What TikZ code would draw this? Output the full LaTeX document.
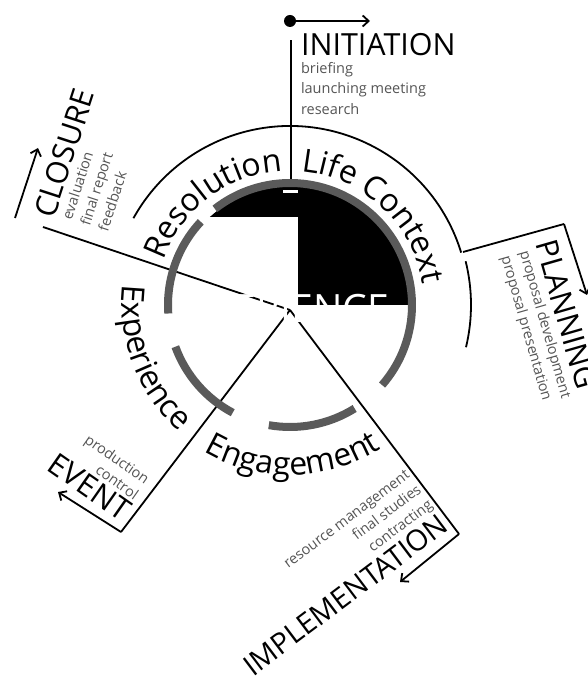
\documentclass[tikz,border=0pt]{standalone}
\usepackage{fontspec}
\setmainfont{Open Sans}
\usetikzlibrary{arrows.meta,decorations.text}
\definecolor{ringgray}{HTML}{5A5A5A}
\definecolor{stepgray}{HTML}{555555}
\newcommand\capfont{\fontsize{30.5}{36}\selectfont}
\newcommand\arcfont{\fontsize{32}{36}\selectfont}
\newcommand\stepfont{\fontsize{14.5}{19}\selectfont}

\begin{document}
\begin{tikzpicture}[
  x=1pt, y=1pt,
  every node/.style={inner sep=0pt, outer sep=0pt},
  caption/.style={font=\capfont},
  steps/.style={font=\stepfont, text=stepgray},
  spoke/.style={line width=1.8pt},
  flow/.style={line width=1.8pt, -{Straight Barb[length=6pt,width=11pt]}},
  rim/.style={line width=1.8pt},
  ring/.style={line width=8pt, draw=ringgray}
]
\useasboundingbox (0,0) rectangle (588,682);

% centre of the wheel
\coordinate (c) at (290,377);
\coordinate (hub) at (290,372);

% black cap with its white patch
\fill[black] ([shift={(0:119)}]c) arc[start angle=0, end angle=180, radius=119] -- cycle;
\fill[white] (160,377) rectangle (298,465);
\fill[white] (283,489) rectangle (298,492);

% spokes
\coordinate (topfoot) at (291,498);
\coordinate (toptip) at (291,642);
\coordinate (cloend) at (43,455);
\coordinate (evtend) at (121,150);
\coordinate (impend) at (459,148);
\coordinate (plastart) at (463,430);
\coordinate (plaend) at (564,458);
\draw[spoke] (topfoot) -- (toptip);
\draw[spoke] (hub) -- (cloend);
\draw[spoke] (hub) -- (evtend);
\draw[spoke] (hub) -- (impend);
\draw[spoke] (plastart) -- (plaend);

% phase arrows
\node[circle, fill=black, minimum size=12pt] (dot) at (290,661) {};
\coordinate (initnext) at (370,661);
\coordinate (clofrom) at (15,464);
\coordinate (clonext) at (38,534);
\coordinate (evtnext) at (58,190);
\coordinate (impnext) at (400,100);
\coordinate (planext) at (587,387);
\draw[flow] (dot) -- (initnext);
\draw[flow] (clofrom) -- (clonext);
\draw[flow] (evtend) -- (evtnext);
\draw[flow] (impend) -- (impnext);
\draw[flow] (plaend) -- (planext);

% white word in the middle
\node[text=white, font=\fontsize{39}{44}\selectfont, anchor=base] (core) at (278,359) {EXPERIENCE};

% grey ring
\foreach \a/\b in {137/184, 200/242, 260/302, -41/128}
  \draw[ring] ([shift={(\a:122)}]c) arc[start angle=\a, end angle=\b, radius=122];

% outer rims
\draw[rim] ([shift={(17:179)}]c) arc[start angle=17, end angle=151, radius=179];
\draw[rim] ([shift={(-13.5:181)}]c) arc[start angle=-13.5, end angle=14, radius=181];

% words round the ring
\path[decorate, decoration={text along path, text align=center, text={|\arcfont|Resolution}}]
  ([shift={(167:134)}]c) arc[start angle=167, end angle=87, radius=134];
\path[decorate, decoration={text along path, text align=center, text={|\arcfont|Life Context}}]
  ([shift={(92:134)}]c) arc[start angle=92, end angle=2, radius=134];
\path[decorate, decoration={text along path, text align=center, text={|\arcfont|Experience}}]
  ([shift={(160:168)}]c) arc[start angle=160, end angle=242, radius=168];
\path[decorate, decoration={text along path, text align=center, text={|\arcfont|Engagement}}]
  ([shift={(226:170)}]c) arc[start angle=226, end angle=316, radius=170];

% phase labels
\node[caption, anchor=base west] (initiation) at (301,626) {INITIATION};
\node[steps, font=\fontsize{14.5}{20.5}\selectfont, align=left, anchor=north west] (initsteps) at (301,620) {briefing\\launching meeting\\research};

\begin{scope}[shift={(54,462)}, rotate=72, transform shape]
  \node[caption, anchor=base west] (closure) at (0,0) {CLOSURE};
  \node[steps, align=left, anchor=north west] (closuresteps) at (5,-6) {evaluation\\final report\\feedback};
\end{scope}

\begin{scope}[shift={(535,438)}, rotate=-74, transform shape]
  \node[caption, anchor=base west] (planning) at (0,0) {PLANNING};
  \node[steps, align=left, anchor=north west] (planningsteps) at (4,-6) {proposal development\\proposal presentation};
\end{scope}

\begin{scope}[shift={(121,160)}, rotate=-35, transform shape]
  \node[caption, anchor=base east] (event) at (0,0) {EVENT};
  \node[steps, align=right, anchor=south east] (eventsteps) at (-2,25) {production\\control};
\end{scope}

\begin{scope}[shift={(450,153)}, rotate=37, transform shape]
  \node[caption, font=\fontsize{29}{34}\selectfont, anchor=base east] (implementation) at (0,0) {IMPLEMENTATION};
  \node[steps, align=right, anchor=south east] (implementationsteps) at (0,24) {resource management\\final studies\\contracting};
\end{scope}
\end{tikzpicture}
\end{document}
